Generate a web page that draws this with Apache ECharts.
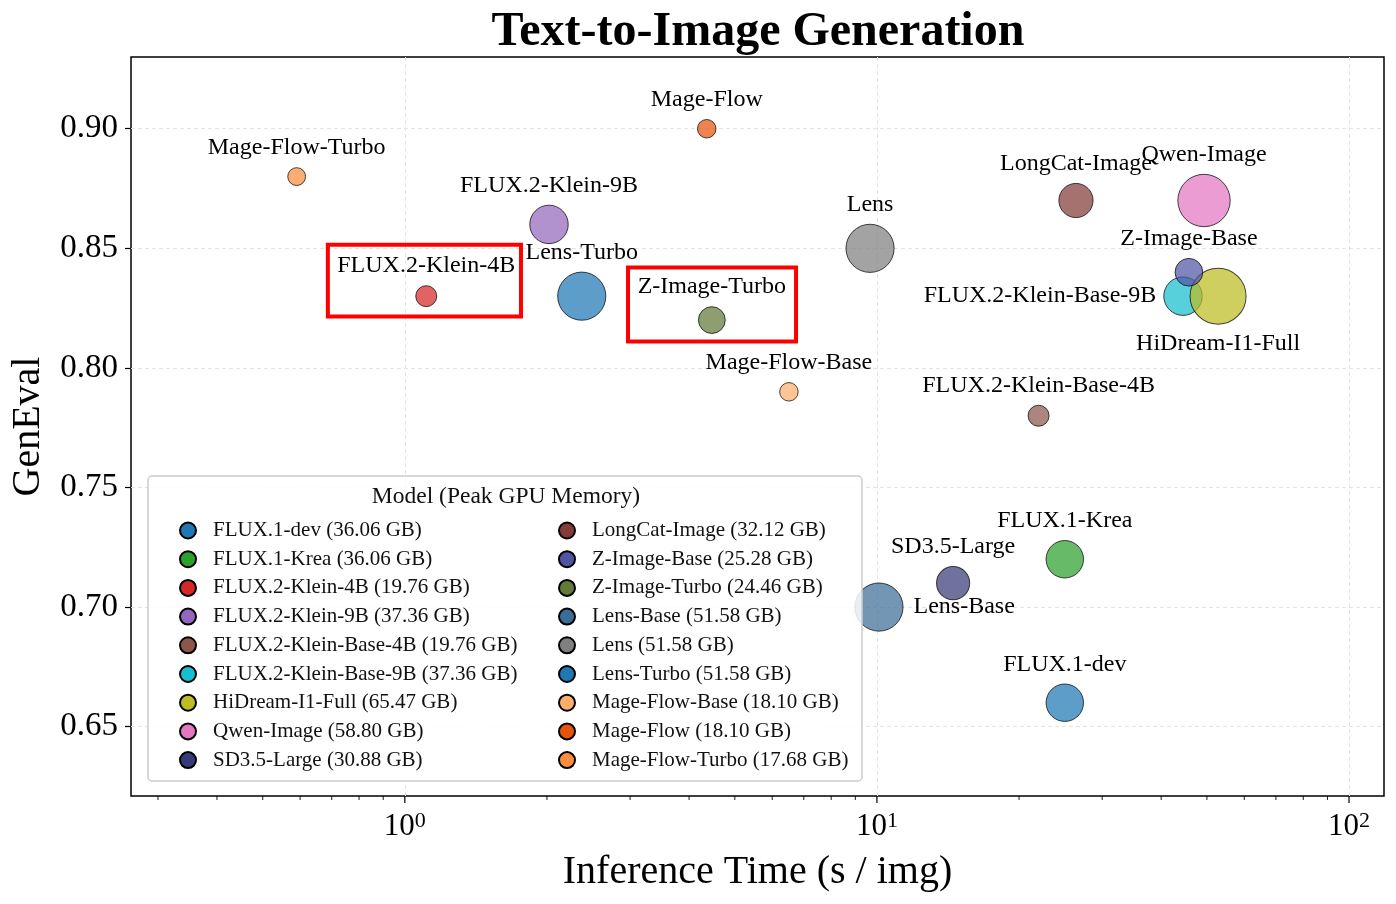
<!DOCTYPE html>
<html>
<head>
<meta charset="utf-8">
<title>Text-to-Image Generation</title>
<script src="https://cdn.jsdelivr.net/npm/echarts@6.0.0/dist/echarts.min.js"></script>
<style>
  html, body { margin: 0; padding: 0; background: #fff; }
  #main { width: 1396px; height: 904px; }
</style>
</head>
<body>
<div id="main"></div>
<script>
// model data
var models = ['FLUX.1-dev', 'FLUX.1-Krea', 'FLUX.2-Klein-4B', 'FLUX.2-Klein-9B',
  'FLUX.2-Klein-Base-4B', 'FLUX.2-Klein-Base-9B', 'HiDream-I1-Full', 'Qwen-Image',
  'SD3.5-Large', 'LongCat-Image', 'Z-Image-Base', 'Z-Image-Turbo', 'Lens-Base',
  'Lens', 'Lens-Turbo', 'Mage-Flow-Base', 'Mage-Flow', 'Mage-Flow-Turbo'];
var times = [25.0, 25.0, 1.11, 2.02, 22.0, 44.5, 52.8, 49.3, 14.5,
  26.4, 45.8, 4.47, 10.1, 9.67, 2.37, 6.51, 4.36, 0.59];
var geneval = [0.66, 0.72, 0.83, 0.86, 0.78, 0.83, 0.83, 0.87, 0.71,
  0.87, 0.84, 0.82, 0.70, 0.85, 0.83, 0.79, 0.90, 0.88];
var memory = [36.06, 36.06, 19.76, 37.36, 19.76, 37.36, 65.47, 58.80, 30.88,
  32.12, 25.28, 24.46, 51.58, 51.58, 51.58, 18.10, 18.10, 17.68];

var majorTicks = [1, 10, 100];
var minorTicks = [0.3, 0.4, 0.5, 0.6, 0.7, 0.8, 0.9,
  2, 3, 4, 5, 6, 7, 8, 9, 20, 30, 40, 50, 60, 70, 80, 90];

// highlighted models (red boxes), in data coords
var boxes = {
  'FLUX.2-Klein-4B': [[0.687, 0.8515], [1.762, 0.8215]],
  'Z-Image-Turbo': [[2.97, 0.842], [6.74, 0.811]]
};

var colors = ['#1f77b4', '#2ca02c', '#d62728', '#9467bd', '#8c564b', '#17becf',
  '#bcbd22', '#e377c2', '#393b79', '#843c39', '#5254a3', '#637939', '#3b6e96',
  '#7f7f7f', '#1f77b4', '#fdae6b', '#e6550d', '#fd8d3c'];

var labelPos = {
  'FLUX.2-Klein-Base-9B': ['left', 7],
  'HiDream-I1-Full': ['bottom', 7],
  'Lens-Base': ['right', 10]
};

var FONT = '"Liberation Serif", "Times New Roman", serif';
var X_MIN = 0.263, X_MAX = 118.6, Y_MIN = 0.621, Y_MAX = 0.93;

var myChart = echarts.init(document.getElementById('main'));

var legendName = function (i) {
  return models[i] + ' (' + memory[i].toFixed(2) + ' GB)';
};

var series = models.map(function (m, i) {
  var lp = labelPos[m] || ['top', 7];
  var s = {
    name: legendName(i),
    type: 'scatter',
    data: [{ name: m, value: [times[i], geneval[i]] }],
    symbolSize: function () {
      return Math.sqrt(59 * (memory[i] - 12.3));
    },
    itemStyle: {
      color: colors[i],
      opacity: 0.72,
      borderColor: '#000',
      borderWidth: 1
    },
    label: {
      show: true,
      opacity: 1,
      formatter: '{b}',
      position: lp[0],
      distance: lp[1],
      fontFamily: FONT,
      fontSize: 24,
      color: '#000'
    },
    emphasis: { disabled: true },
    z: 3
  };
  if (boxes[m]) {
    s.markArea = {
      silent: true,
      itemStyle: { color: 'rgba(0,0,0,0)', borderColor: '#ff0000', borderWidth: 4, opacity: 1 },
      data: [[{ coord: boxes[m][0] }, { coord: boxes[m][1] }]]
    };
  }
  return s;
});

// x axis ticks (major + minor) drawn as a custom series so the log minors sit at 2..9
series.push({
  type: 'custom',
  name: 'ticks',
  clip: false,
  silent: true,
  data: majorTicks.map(function (v) { return [v, 1]; })
    .concat(minorTicks.map(function (v) { return [v, 0]; })),
  encode: { x: 0 },
  renderItem: function (params, api) {
    var cs = params.coordSys;
    var x = api.coord([api.value(0), Y_MIN])[0];
    var bottom = cs.y + cs.height;
    var len = api.value(1) ? 7 : 4;
    return {
      type: 'line',
      shape: { x1: x, y1: bottom, x2: x, y2: bottom + len },
      style: { stroke: '#000', lineWidth: api.value(1) ? 1.2 : 0.9 }
    };
  },
  z: 5
});

var leftNames = [], rightNames = [];
models.forEach(function (m, i) {
  (i < 9 ? leftNames : rightNames).push(legendName(i));
});

var legendBase = {
  orient: 'vertical',
  top: 515,
  icon: 'circle',
  itemWidth: 16,
  itemHeight: 16,
  itemGap: 7.7,
  selectedMode: false,
  itemStyle: { opacity: 1, borderColor: '#000', borderWidth: 2 },
  textStyle: {
    fontFamily: FONT,
    fontSize: 21,
    lineHeight: 20,
    color: '#111',
    padding: [0, 0, 0, 12]
  },
  z: 6
};

option = {
  backgroundColor: '#fff',
  animation: false,
  title: {
    text: 'Text-to-Image Generation',
    left: 753,
    textAlign: 'center',
    top: 4,
    textStyle: { fontFamily: FONT, fontWeight: 'bold', fontSize: 48, color: '#000' }
  },
  grid: {
    left: 131, right: 12, top: 57, bottom: 108,
    show: true,
    borderColor: '#000',
    borderWidth: 1.5,
    backgroundColor: 'rgba(0,0,0,0)'
  },
  legend: [
    Object.assign({}, legendBase, { left: 174, data: leftNames }),
    Object.assign({}, legendBase, { left: 553, data: rightNames })
  ],
  graphic: [
    {
      type: 'rect',
      shape: { x: 148, y: 476, width: 714, height: 305, r: 4 },
      style: { fill: 'rgba(255,255,255,0.85)', stroke: '#cccccc', lineWidth: 1.5 },
      z: 4
    },
    {
      type: 'text',
      x: 506,
      y: 497,
      style: {
        text: 'Model (Peak GPU Memory)',
        fontFamily: FONT,
        fontSize: 23.5,
        fill: '#111',
        align: 'center',
        verticalAlign: 'middle'
      },
      z: 6
    }
  ],
  xAxis: {
    type: 'log',
    logBase: 10,
    min: X_MIN,
    max: X_MAX,
    name: 'Inference Time (s / img)',
    nameLocation: 'middle',
    nameGap: 56,
    nameTextStyle: { fontFamily: FONT, fontSize: 40, color: '#000' },
    axisLine: { show: false },
    axisTick: { show: false },
    axisLabel: {
      showMinLabel: false,
      showMaxLabel: false,
      margin: 14,
      formatter: function (v) {
        var e = Math.round(Math.log10(v));
        return '{b|10}{s|' + e + '}';
      },
      rich: {
        b: { fontFamily: FONT, fontSize: 31, color: '#000', lineHeight: 34 },
        s: { fontFamily: FONT, fontSize: 22, color: '#000', verticalAlign: 'top', lineHeight: 22 }
      }
    },
    splitLine: {
      show: true,
      showMinLine: false,
      showMaxLine: false,
      lineStyle: { color: '#e4e4e4', type: [4, 3], width: 1 }
    }
  },
  yAxis: {
    type: 'value',
    min: Y_MIN,
    max: Y_MAX,
    name: 'GenEval',
    nameLocation: 'middle',
    nameGap: 83,
    nameTextStyle: { fontFamily: FONT, fontSize: 40, color: '#000' },
    axisLine: { show: false },
    axisTick: { show: true, length: 6, lineStyle: { color: '#000', width: 1.2 } },
    axisLabel: {
      showMinLabel: false,
      showMaxLabel: false,
      margin: 13,
      fontFamily: FONT,
      fontSize: 33,
      color: '#000',
      formatter: function (v) { return v.toFixed(2); }
    },
    splitLine: {
      show: true,
      showMinLine: false,
      showMaxLine: false,
      lineStyle: { color: '#e4e4e4', type: [4, 3], width: 1 }
    }
  },
  series: series
};

myChart.setOption(option);
window.addEventListener('resize', function () {
  myChart.resize();
});
</script>
</body>
</html>
